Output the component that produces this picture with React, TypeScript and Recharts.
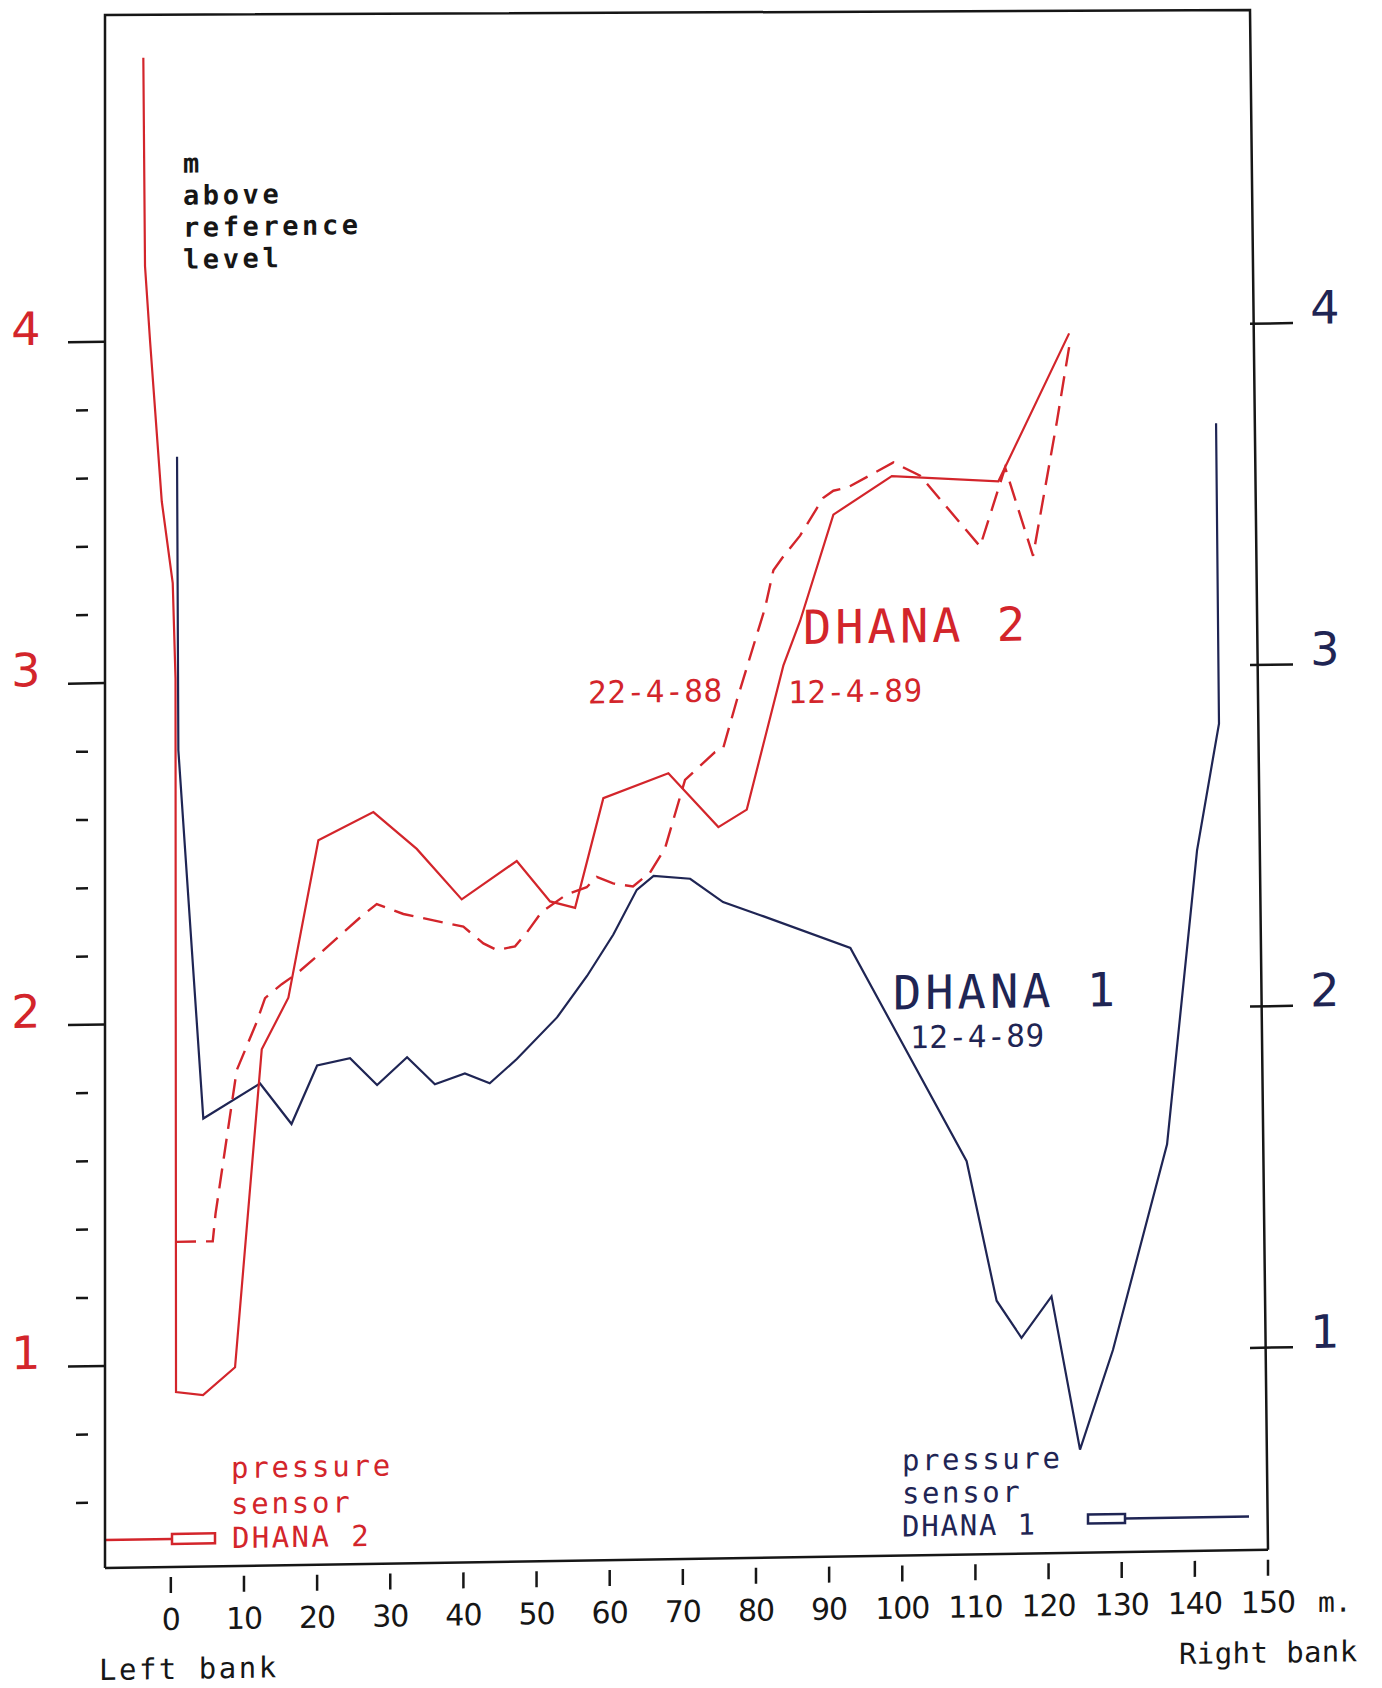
import React from 'react';
import { LineChart, Line, XAxis, YAxis } from 'recharts';

const RED = '#d3252b';
const NAVY = '#1f2554';
const INK = '#161616';
const MONO = '"DejaVu Sans Mono", monospace';
const SANS = '"DejaVu Sans", sans-serif';

// DHANA 1 cross-section, 12-4-89 (distance from left bank in m, level in m)
const D1_DIST = [0.85, 1.03, 4.44, 12.2, 16.5, 20.0, 24.5, 28.2, 32.3, 36.1, 40.2, 43.6, 47.3, 52.8, 56.9, 60.5, 63.7, 66.0, 71.0, 75.5, 80.6, 92.9, 108.8, 112.9, 116.3, 120.4, 124.3, 128.8, 136.2, 140.3, 143.3, 142.9];
const D1_LEVEL = [3.66, 2.8, 1.72, 1.82, 1.7, 1.87, 1.89, 1.81, 1.89, 1.81, 1.84, 1.81, 1.88, 2.0, 2.12, 2.24, 2.37, 2.41, 2.4, 2.33, 2.29, 2.19, 1.56, 1.15, 1.04, 1.16, 0.71, 1.0, 1.6, 2.46, 2.83, 3.71];

// DHANA 2 cross-section, 12-4-89
const D2_DIST = [-3.76, -3.53, -2.84, -1.24, 0.26, 0.64, 0.71, 4.4, 8.78, 12.43, 16.07, 20.17, 27.69, 33.62, 39.77, 47.29, 51.85, 55.27, 59.13, 68.02, 74.86, 78.74, 83.74, 86.03, 90.58, 98.57, 113.14, 122.81];
const D2_LEVEL = [4.83, 4.22, 4.0, 3.53, 3.29, 3.01, 0.92, 0.91, 0.99, 1.92, 2.07, 2.53, 2.61, 2.5, 2.35, 2.46, 2.34, 2.32, 2.64, 2.71, 2.55, 2.6, 3.02, 3.15, 3.46, 3.57, 3.55, 3.98];

// DHANA 2 cross-section, 22-4-88
const D2_OLD_DIST = [0.71, 5.73, 6.11, 9.01, 11.74, 12.88, 15.16, 17.21, 19.95, 26.32, 28.15, 31.79, 39.99, 42.73, 44.56, 47.06, 48.66, 50.71, 54.13, 56.86, 58.23, 60.46, 63.19, 65.51, 67.56, 70.3, 74.4, 75.5, 77.37, 81.24, 82.38, 83.74, 86.03, 89.21, 90.58, 92.63, 98.79, 102.44, 110.64, 114.06, 117.88, 121.12, 122.81];
const D2_OLD_LEVEL = [1.36, 1.36, 1.44, 1.86, 2.0, 2.07, 2.11, 2.14, 2.19, 2.31, 2.34, 2.31, 2.27, 2.22, 2.2, 2.21, 2.25, 2.31, 2.36, 2.38, 2.41, 2.39, 2.38, 2.42, 2.49, 2.69, 2.77, 2.78, 2.92, 3.19, 3.3, 3.34, 3.4, 3.51, 3.53, 3.54, 3.61, 3.57, 3.36, 3.59, 3.33, 3.72, 3.94];

const X_TICKS = [0, 10, 20, 30, 40, 50, 60, 70, 80, 90, 100, 110, 120, 130, 140, 150];
const LEFT_TICKS = [0.6, 0.8, 1, 1.2, 1.4, 1.6, 1.8, 2, 2.2, 2.4, 2.6, 2.8, 3, 3.2, 3.4, 3.6, 3.8, 4];
const RIGHT_TICKS = [1, 2, 3, 4];

const X_DOMAIN = [-9, 150];
const Y_DOMAIN = [0.408, 4.957];

const W = 1382;
const H = 1720;
const PLOT_LEFT = 105;
const PLOT_RIGHT = 1268;
const PLOT_TOP = 15;
const PLOT_BOTTOM = 1568;
// the plotted sheet leans a little: right side sits higher than the left
const SKEW_DEG = -0.9;
const SKEW = Math.tan((SKEW_DEG * Math.PI) / 180);

const toPoints = (xs: number[], ys: number[]) => xs.map((x, i) => ({ x, y: ys[i] }));

const d1 = toPoints(D1_DIST, D1_LEVEL);
const d2 = toPoints(D2_DIST, D2_LEVEL);
const d2Old = toPoints(D2_OLD_DIST, D2_OLD_LEVEL);

const LeftTick = (props: any) => {
  const { y, payload } = props;
  const v = payload.value;
  if (!Number.isInteger(v)) {
    return <line x1={PLOT_LEFT - 29} x2={PLOT_LEFT - 17} y1={y} y2={y} stroke={INK} strokeWidth={2.5} />;
  }
  return (
    <g>
      <line x1={PLOT_LEFT - 37} x2={PLOT_LEFT} y1={y} y2={y} stroke={INK} strokeWidth={2.5} />
      <text x={26} y={y + 2} textAnchor="middle" fill={RED} fontSize={46} fontFamily={SANS}>{v}</text>
    </g>
  );
};

const RightTick = (props: any) => {
  const { y, payload } = props;
  return (
    <g>
      <line x1={PLOT_RIGHT - 18} x2={PLOT_RIGHT + 25} y1={y} y2={y} stroke={INK} strokeWidth={2.5} />
      <text x={1325} y={y + 1} textAnchor="middle" fill={NAVY} fontSize={46} fontFamily={SANS}>{payload.value}</text>
    </g>
  );
};

const BottomTick = (props: any) => {
  const { x, payload } = props;
  return (
    <g>
      <line x1={x} x2={x} y1={PLOT_BOTTOM + 10} y2={PLOT_BOTTOM + 26} stroke={INK} strokeWidth={2.5} />
      <text x={x} y={PLOT_BOTTOM + 63} textAnchor="middle" fill={INK} fontSize={30} letterSpacing={-1} fontFamily={SANS}>{payload.value}</text>
    </g>
  );
};

// left, top and right edges of the plot frame (bottom edge is the x axis)
const Frame = () => {
  const bottomRight = PLOT_BOTTOM + SKEW * (PLOT_RIGHT - PLOT_LEFT);
  return (
    <svg width={W} height={1688} style={{ position: 'absolute', left: 0, top: 0, pointerEvents: 'none' }}>
      <polyline
        points={`${PLOT_LEFT},${PLOT_BOTTOM} ${PLOT_LEFT},${PLOT_TOP} 1250,10 ${PLOT_RIGHT},${bottomRight}`}
        fill="none"
        stroke={INK}
        strokeWidth={2.5}
      />
    </svg>
  );
};

const Notes = () => (
  <svg width={W} height={H} style={{ position: 'absolute', left: 0, top: 0, pointerEvents: 'none' }}>
    <g fontFamily={MONO} fill={INK} fontSize={27} fontWeight={700} letterSpacing={3.6}>
      <text x={183} y={174}>m</text>
      <text x={183} y={206}>above</text>
      <text x={183} y={238}>reference</text>
      <text x={183} y={270}>level</text>
    </g>

    <g fontFamily={MONO} fill={RED}>
      <text x={803} y={655} fontSize={47} letterSpacing={4}>DHANA 2</text>
      <text x={588} y={711} fontSize={31} letterSpacing={0.6}>22-4-88</text>
      <text x={788} y={714} fontSize={31} letterSpacing={0.6}>12-4-89</text>
    </g>

    <g fontFamily={MONO} fill={NAVY}>
      <text x={893} y={1022} fontSize={47} letterSpacing={4}>DHANA 1</text>
      <text x={910} y={1061} fontSize={31} letterSpacing={0.6}>12-4-89</text>
    </g>

    {/* sensor markers */}
    <g fontFamily={MONO} fill={RED}>
      <text x={231} y={1480} fontSize={29} letterSpacing={2.8}>pressure</text>
      <text x={231} y={1516} fontSize={29} letterSpacing={2.8}>sensor</text>
      <text x={232} y={1550} fontSize={29} letterSpacing={2.4}>DHANA 2</text>
    </g>
    <line x1={PLOT_LEFT} x2={172} y1={1540} y2={1540} stroke={RED} strokeWidth={2.5} />
    <rect x={172} y={1535} width={43} height={10} fill="none" stroke={RED} strokeWidth={2.5} />

    <g fontFamily={MONO} fill={NAVY}>
      <text x={902} y={1483} fontSize={29} letterSpacing={2.6}>pressure</text>
      <text x={902} y={1516} fontSize={29} letterSpacing={2.6}>sensor</text>
      <text x={902} y={1549} fontSize={29} letterSpacing={1.8}>DHANA 1</text>
    </g>
    <rect x={1088} y={1530} width={37} height={9} fill="none" stroke={NAVY} strokeWidth={2.5} />
    <line x1={1125} x2={1249} y1={1534.5} y2={1534.5} stroke={NAVY} strokeWidth={2.5} />

    <g fontFamily={MONO} fill={INK} fontSize={29}>
      <text x={1318} y={1631} fontSize={28}>m.</text>
      <text x={99} y={1680} letterSpacing={2.5}>Left bank</text>
      <text x={1179} y={1681} letterSpacing={0.4}>Right bank</text>
    </g>
  </svg>
);

export default function App() {
  return (
    <div style={{ position: 'absolute', left: 0, top: 0, width: W, height: 1688, overflow: 'hidden', background: '#ffffff' }}>
      <div style={{ position: 'relative', width: W, height: H, transform: `skewY(${SKEW_DEG}deg)`, transformOrigin: `${PLOT_LEFT}px 0px` }}>
        <LineChart width={W} height={H} margin={{ top: PLOT_TOP, left: 45, right: 54, bottom: 92 }}>
          <XAxis
            dataKey="x"
            type="number"
            domain={X_DOMAIN}
            ticks={X_TICKS}
            allowDataOverflow
            height={60}
            axisLine={{ stroke: INK, strokeWidth: 2.5 }}
            tickLine={false}
            tick={(p: any) => <BottomTick {...p} />}
          />
          <YAxis
            yAxisId="left"
            type="number"
            domain={Y_DOMAIN}
            ticks={LEFT_TICKS}
            allowDataOverflow
            width={60}
            axisLine={false}
            tickLine={false}
            tick={(p: any) => <LeftTick {...p} />}
          />
          <YAxis
            yAxisId="right"
            orientation="right"
            type="number"
            domain={Y_DOMAIN}
            ticks={RIGHT_TICKS}
            allowDataOverflow
            width={60}
            axisLine={false}
            tickLine={false}
            tick={(p: any) => <RightTick {...p} />}
          />
          <Line yAxisId="left" data={d1} dataKey="y" type="linear" stroke={NAVY} strokeWidth={2.2} dot={false} isAnimationActive={false} />
          <Line yAxisId="left" data={d2Old} dataKey="y" type="linear" stroke={RED} strokeWidth={2.4} strokeDasharray="20 10" dot={false} isAnimationActive={false} />
          <Line yAxisId="left" data={d2} dataKey="y" type="linear" stroke={RED} strokeWidth={2.2} dot={false} isAnimationActive={false} />
        </LineChart>
        <Notes />
      </div>
      <Frame />
    </div>
  );
}
